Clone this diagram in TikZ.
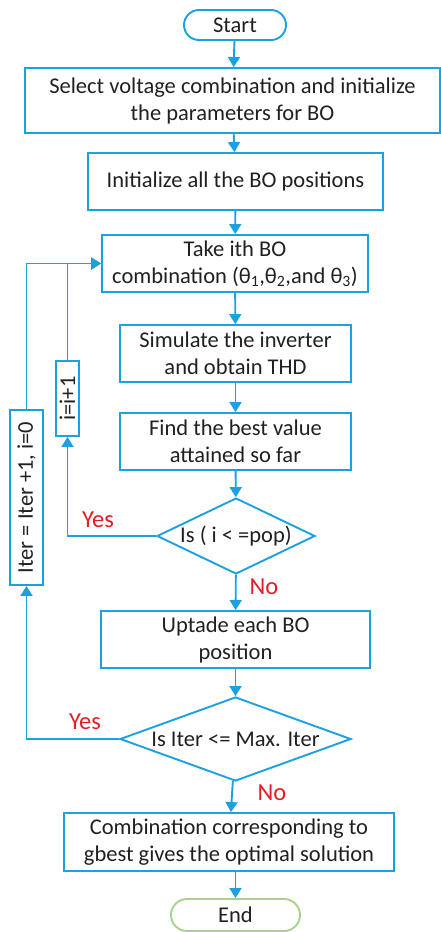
\documentclass[tikz,border=0pt]{standalone}
\usepackage{fontspec}
\usepackage{graphicx}
\setmainfont{Carlito}
\usetikzlibrary{arrows.meta,shapes.geometric}
\definecolor{flowblue}{RGB}{27,161,226}
\definecolor{endgreen}{RGB}{169,209,142}
\definecolor{labelred}{RGB}{228,30,38}
\definecolor{textgray}{RGB}{35,31,32}
\begin{document}
\begin{tikzpicture}[x=1pt,y=-1pt,
  every node/.style={font=\fontsize{22.5}{27}\selectfont, text=textgray},
  procbox/.style={draw=flowblue, line width=1.9pt, rectangle, align=center, inner sep=0pt},
  termbox/.style={draw=flowblue, line width=1.9pt, rectangle, rounded corners=15pt, inner sep=0pt},
  decbox/.style={draw=flowblue, line width=1.9pt, diamond, inner sep=0pt, align=center},
  sidebox/.style={draw=flowblue, line width=1.9pt, rectangle, inner sep=0pt},
  flow/.style={draw=flowblue, line width=1.9pt, -{Triangle[width=12pt,length=10pt]}},
  answer/.style={text=labelred, font=\fontsize{24.5}{28}\selectfont}
]
\useasboundingbox (0,0) rectangle (441,932);

% main column
\node[termbox, minimum width=102pt, minimum height=30pt] (start) at (235,25) {Start};
\node[procbox, minimum width=415pt, minimum height=65pt] (sel) at (232.5,100.5)
  {Select voltage combination and initialize\\the parameters for BO};
\node[procbox, minimum width=295pt, minimum height=57pt] (init) at (235.5,181.5)
  {Initialize all the BO positions};
\node[procbox, minimum width=266pt, minimum height=57pt] (take) at (235,263.5)
  {Take ith BO\\combination (θ\textsubscript{1},θ\textsubscript{2},and θ\textsubscript{3})};
\node[procbox, minimum width=231pt, minimum height=57pt] (sim) at (235.5,353.5)
  {Simulate the inverter\\and obtain THD};
\node[procbox, minimum width=231pt, minimum height=57pt] (find) at (235.5,441.5)
  {Find the best value\\attained so far};
\node[decbox, aspect=2.08, minimum width=158pt, minimum height=76pt] (dec1) at (236,536)
  {Is ( i < =pop)};
\node[procbox, minimum width=269pt, minimum height=57pt] (upd) at (235.5,639.5)
  {Uptade each BO\\position};
\node[decbox, aspect=2.75, minimum width=231pt, minimum height=84pt] (dec2) at (235.5,739)
  {Is Iter <= Max. Iter};
\node[procbox, minimum width=330pt, minimum height=58pt] (comb) at (229,842)
  {Combination corresponding to\\gbest gives the optimal solution};
\node[termbox, draw=endgreen, rounded corners=16pt, minimum width=129pt, minimum height=32pt] (end) at (235.5,915) {End};

% loop counters
\node[sidebox, minimum width=23pt, minimum height=75pt] (inc) at (67.5,398.5)
  {\rotatebox{90}{i=i+1}};
\node[sidebox, minimum width=33pt, minimum height=175pt] (iter) at (26.5,497.5)
  {\rotatebox{90}{Iter = Iter +1, i=0}};

% forward flow
\draw[flow] (start) -- (sel);
\draw[flow] (sel) -- (init);
\draw[flow] (init) -- (take);
\draw[flow] (take) -- (sim);
\draw[flow] (sim) -- (find);
\draw[flow] (find) -- (dec1);
\draw[flow] (dec1) -- (upd);
\draw[flow] (upd) -- (dec2);
\draw[flow] (dec2) -- (comb);
\draw[flow] (comb.south -| end) -- (end);

% loops back
\draw[flow] (dec1.west) -| (inc.south);
\draw[flow] (inc.north) |- (take.west);
\draw[flow] (dec2.west) -| (iter.south);
\draw[flow] (iter.north) |- (take.west);

% branch labels
\node[answer] (yes1) at (98,520) {Yes};
\node[answer] (no1) at (264,587) {No};
\node[answer] (yes2) at (85,722) {Yes};
\node[answer] (no2) at (272,793) {No};
\end{tikzpicture}
\end{document}
